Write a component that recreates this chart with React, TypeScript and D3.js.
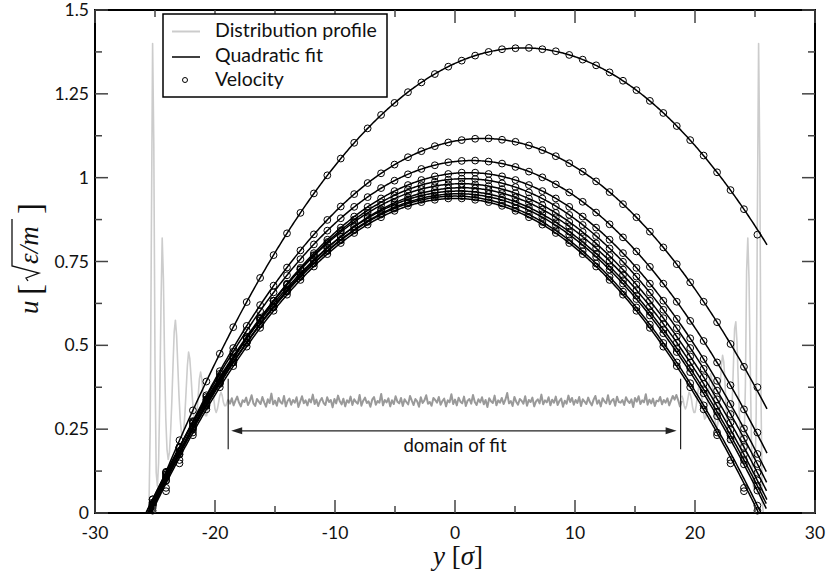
import React from "react";
import * as d3 from "d3";

// ---------- data ----------
const xTickValues = [-30, -20, -10, 0, 10, 20, 30];
const xTickLabels = ["-30", "-20", "-10", "0", "10", "20", "30"];
const xMinorTicks = [-25, -15, -5, 5, 15, 25];
const yTickValues = [0, 0.25, 0.5, 0.75, 1, 1.25, 1.5];
const yTickLabels = ["0", "0.25", "0.5", "0.75", "1", "1.25", "1.5"];
const yMinorTicks = [0.125, 0.375, 0.625, 0.875, 1.125, 1.375];

const legendLabels = ["Distribution profile", "Quadratic fit", "Velocity"];

// bin centres of the velocity profile
const binCenters = [
  -25.2, -24.08, -22.96, -21.84, -20.72, -19.6, -18.48, -17.36, -16.24, -15.12, -14, -12.88,
  -11.76, -10.64, -9.52, -8.4, -7.28, -6.16, -5.04, -3.92, -2.8, -1.68, -0.56, 0.56, 1.68, 2.8,
  3.92, 5.04, 6.16, 7.28, 8.4, 9.52, 10.64, 11.76, 12.88, 14, 15.12, 16.24, 17.36, 18.48, 19.6,
  20.72, 21.84, 22.96, 24.08, 25.2,
];

const velocity1 = [0.027,0.123,0.217,0.306,0.392,0.475,0.554,0.629,0.701,0.769,0.834,0.895,0.953,1.007,1.057,1.104,1.147,1.187,1.223,1.255,1.284,1.309,1.331,1.349,1.364,1.375,1.383,1.386,1.387,1.383,1.377,1.366,1.352,1.335,1.314,1.289,1.261,1.229,1.193,1.154,1.112,1.066,1.016,0.963,0.906,0.83];
const velocity2 = [0.024,0.111,0.195,0.274,0.351,0.423,0.492,0.558,0.620,0.678,0.732,0.783,0.831,0.874,0.914,0.951,0.984,1.013,1.039,1.061,1.079,1.094,1.105,1.112,1.116,1.117,1.113,1.107,1.096,1.082,1.064,1.043,1.018,0.989,0.957,0.921,0.882,0.839,0.792,0.742,0.688,0.630,0.569,0.504,0.436,0.375];
const velocity3 = [0.031,0.115,0.196,0.272,0.346,0.415,0.481,0.544,0.602,0.658,0.709,0.757,0.801,0.842,0.879,0.913,0.942,0.969,0.991,1.010,1.026,1.037,1.046,1.050,1.051,1.048,1.042,1.032,1.018,1.001,0.980,0.956,0.928,0.896,0.861,0.822,0.780,0.734,0.684,0.630,0.573,0.513,0.449,0.381,0.309,0.240];
const velocity4 = [0.020,0.096,0.176,0.252,0.325,0.394,0.459,0.521,0.579,0.633,0.684,0.731,0.775,0.815,0.851,0.884,0.913,0.938,0.960,0.978,0.993,1.004,1.011,1.015,1.015,1.011,1.004,0.993,0.978,0.960,0.938,0.913,0.884,0.851,0.815,0.775,0.731,0.684,0.633,0.579,0.521,0.459,0.394,0.325,0.252,0.176];
const velocity5 = [0.024,0.106,0.185,0.259,0.330,0.398,0.462,0.522,0.579,0.632,0.681,0.727,0.769,0.808,0.843,0.875,0.902,0.927,0.947,0.965,0.978,0.988,0.994,0.997,0.996,0.992,0.983,0.972,0.956,0.938,0.915,0.889,0.859,0.826,0.789,0.749,0.705,0.657,0.606,0.551,0.492,0.430,0.365,0.295,0.222,0.146];
const velocity6 = [0.040,0.120,0.197,0.270,0.339,0.405,0.467,0.526,0.581,0.633,0.681,0.726,0.767,0.804,0.838,0.868,0.895,0.918,0.938,0.954,0.966,0.975,0.980,0.982,0.980,0.975,0.966,0.954,0.938,0.918,0.895,0.868,0.838,0.804,0.767,0.726,0.681,0.633,0.581,0.526,0.467,0.405,0.339,0.270,0.197,0.120];
const velocity7 = [0.015,0.097,0.174,0.248,0.319,0.385,0.449,0.508,0.564,0.616,0.665,0.710,0.752,0.790,0.824,0.855,0.882,0.905,0.925,0.941,0.954,0.963,0.968,0.970,0.968,0.963,0.954,0.941,0.925,0.905,0.882,0.855,0.824,0.790,0.752,0.710,0.665,0.616,0.564,0.508,0.449,0.385,0.319,0.248,0.174,0.097];
const velocity8 = [0.041,0.120,0.195,0.267,0.336,0.400,0.462,0.519,0.574,0.624,0.671,0.715,0.755,0.791,0.824,0.853,0.879,0.901,0.920,0.935,0.947,0.955,0.959,0.960,0.957,0.951,0.941,0.928,0.911,0.891,0.867,0.839,0.808,0.773,0.735,0.694,0.648,0.599,0.547,0.491,0.432,0.369,0.302,0.232,0.158,0.081];
const velocity9 = [0.027,0.106,0.182,0.255,0.323,0.389,0.450,0.509,0.563,0.614,0.661,0.705,0.745,0.782,0.815,0.845,0.871,0.893,0.912,0.927,0.939,0.947,0.951,0.952,0.949,0.943,0.933,0.920,0.903,0.882,0.858,0.830,0.799,0.764,0.726,0.684,0.638,0.589,0.536,0.480,0.420,0.357,0.289,0.219,0.145,0.067];
const velocity10 = [0.022,0.075,0.158,0.240,0.321,0.387,0.449,0.507,0.562,0.613,0.660,0.704,0.744,0.781,0.813,0.843,0.868,0.890,0.908,0.923,0.934,0.941,0.945,0.945,0.941,0.934,0.923,0.908,0.890,0.868,0.843,0.813,0.781,0.744,0.704,0.660,0.613,0.562,0.507,0.449,0.387,0.321,0.240,0.158,0.075,0.022];
const velocity11 = [0.007,0.065,0.148,0.232,0.309,0.375,0.438,0.496,0.552,0.603,0.651,0.695,0.735,0.772,0.805,0.835,0.860,0.882,0.901,0.916,0.927,0.934,0.938,0.938,0.934,0.927,0.916,0.901,0.882,0.860,0.835,0.805,0.772,0.735,0.695,0.651,0.603,0.552,0.496,0.438,0.375,0.309,0.232,0.148,0.065,0.007];
const velocitySeries = [velocity1, velocity2, velocity3, velocity4, velocity5, velocity6, velocity7, velocity8, velocity9, velocity10, velocity11];

// quadratic fits u(y) = peak * (1 - ((y - centre) / (centre - wall))^2)
const fitPeak = [1.387, 1.117, 1.051, 1.015, 0.997, 0.982, 0.970, 0.960, 0.952, 0.945, 0.938];
const fitCenter = [5.7, 2.34, 1.4, 1.12, 0.84, 0.56, 0.56, 0.28, 0.28, 0, 0];
const fitWall = [-25.5, -25.5, -25.6, -25.36, -25.53, -25.74, -25.41, -25.76, -25.56, -25.5, -25.3];
const fitEnd = 26;

// distribution profile: left wall region (from -25.7, step 0.1)
const profileLeftStart = -25.7;
const profileWallStep = 0.1;
const profileLeft = [
  0, 0, 0.02, 0.25, 0.85, 1.40, 1.10, 0.45, 0.12, 0.08,
  0.15, 0.35, 0.62, 0.82, 0.70, 0.45, 0.28, 0.19, 0.16, 0.18,
  0.24, 0.33, 0.44, 0.54, 0.575, 0.53, 0.44, 0.35, 0.28, 0.24,
  0.23, 0.25, 0.30, 0.37, 0.44, 0.48, 0.46, 0.41, 0.35, 0.30,
  0.27, 0.27, 0.30, 0.35, 0.40, 0.42, 0.40, 0.36, 0.32, 0.29,
  0.29, 0.31, 0.34, 0.37, 0.38, 0.37, 0.34, 0.31, 0.30, 0.31,
  0.33, 0.35, 0.36, 0.35, 0.33, 0.32, 0.32, 0.33, 0.34,
];
// central (fit domain) region, from -18.9 with step 0.15
const profileCenterStart = -18.9;
const profileCenterStep = 0.15;
const profileCenter = [
  .338,.326,.342,.321,.335,.347,.329,.318,.336,.331,.344,.322,.333,.351,.327,.319,.34,.332,.325,.346,
  .33,.317,.339,.328,.356,.324,.335,.32,.343,.331,.326,.349,.318,.334,.341,.323,.337,.329,.345,.316,
  .332,.348,.327,.336,.321,.339,.33,.353,.325,.338,.319,.334,.343,.328,.322,.345,.331,.337,.315,.34,
  .327,.35,.333,.324,.341,.318,.336,.329,.347,.322,.339,.331,.326,.352,.32,.335,.344,.328,.333,.317,
  .338,.346,.323,.334,.329,.355,.321,.337,.33,.342,.318,.336,.325,.348,.332,.327,.343,.319,.339,.331,
  .324,.349,.335,.322,.34,.333,.317,.345,.328,.336,.351,.326,.331,.32,.343,.337,.329,.346,.323,.334,
  .341,.318,.336,.33,.354,.325,.338,.321,.344,.332,.327,.347,.319,.335,.34,.326,.352,.331,.322,.339,
  .33,.345,.324,.337,.316,.342,.333,.328,.35,.321,.336,.329,.343,.325,.338,.358,.327,.334,.319,.346,
  .332,.323,.34,.335,.326,.348,.32,.337,.331,.344,.318,.333,.339,.327,.353,.324,.336,.33,.345,.321,
  .338,.329,.347,.322,.334,.341,.317,.335,.326,.35,.331,.343,.323,.337,.328,.346,.319,.339,.332,.325,
  .344,.33,.321,.338,.349,.326,.336,.318,.342,.333,.327,.351,.324,.335,.34,.32,.347,.331,.329,.337,
  .322,.345,.334,.328,.339,.316,.343,.332,.348,.325,.336,.33,.354,.323,.338,.327,.341,.319,.335,.333,
  .346,.324,.337,.329,.342,.321,.335,.349,.338,.352,.336,.318,.334,
];
// right wall region, from 18.9 with step 0.1
const profileRightStart = 18.9;
const profileRight = [
  0.35, 0.34, 0.32, 0.31, 0.32, 0.34, 0.36, 0.355, 0.34, 0.315,
  0.30, 0.30, 0.32, 0.35, 0.375, 0.385, 0.37, 0.335, 0.30, 0.28,
  0.285, 0.31, 0.35, 0.395, 0.415, 0.40, 0.36, 0.31, 0.27, 0.25,
  0.265, 0.31, 0.38, 0.44, 0.47, 0.45, 0.39, 0.31, 0.25, 0.21,
  0.21, 0.25, 0.33, 0.44, 0.55, 0.57, 0.51, 0.40, 0.29, 0.20,
  0.15, 0.15, 0.22, 0.38, 0.72, 0.82, 0.70, 0.45, 0.22, 0.10,
  0.07, 0.09, 0.30, 0.90, 1.40, 1.05, 0.35, 0.03, 0,
];

const domainOfFit = [-18.9, 18.8];
const domainLabel = "domain of fit";

// ---------- component ----------
export default function App() {
  const W = 826;
  const H = 576;
  const x = d3.scaleLinear().domain([-30, 30]).range([95, 815]);
  const y = d3.scaleLinear().domain([0, 1.5]).range([513, 10]);
  const line = d3
    .line<[number, number]>()
    .x((d) => x(d[0]))
    .y((d) => y(d[1]));

  const leftPts: [number, number][] = profileLeft.map((v, i) => [profileLeftStart + i * profileWallStep, v]);
  const centerPts: [number, number][] = profileCenter.map((v, i) => [profileCenterStart + i * profileCenterStep, v]);
  const rightPts: [number, number][] = profileRight.map((v, i) => [profileRightStart + i * profileWallStep, v]);

  const fitPaths = fitPeak.map((a, i) => {
    const c = fitCenter[i];
    const w = fitWall[i];
    const pts: [number, number][] = d3
      .range(w, fitEnd + 1e-6, 0.1)
      .map((t) => [t, a * (1 - ((t - c) / (c - w)) ** 2)]);
    return line(pts) || "";
  });

  const tickFont = "Lato, 'Open Sans', sans-serif";
  const mathFont = "'Liberation Serif', 'DejaVu Serif', serif";
  const x0 = 95, x1 = 815, y0 = 513, y1 = 10;
  const majorLen = 13;
  const minorLen = 7;
  const tickColor = "#444";

  const arrowY = y(0.245);
  const ax0 = x(domainOfFit[0]) + 3;
  const ax1 = x(domainOfFit[1]) - 4;

  return (
    <svg
      width={W}
      height={H}
      viewBox={`0 0 ${W} ${H}`}
      style={{ position: "absolute", left: 0, top: 0, background: "#fff" }}
    >
      <defs>
        <clipPath id="plotClip">
          <rect x={x0} y={y1} width={x1 - x0} height={y0 - y1} />
        </clipPath>
      </defs>
      <rect x={0} y={0} width={W} height={H} fill="#fff" />

      {/* distribution profile */}
      <g clipPath="url(#plotClip)" fill="none" strokeLinejoin="round">
        <path d={line(leftPts) || ""} stroke="#cccccc" strokeWidth={1.6} />
        <path d={line(rightPts) || ""} stroke="#cccccc" strokeWidth={1.6} />
        <path d={line(centerPts) || ""} stroke="#9a9a9a" strokeWidth={2} />
      </g>

      {/* domain of fit annotation */}
      <g stroke="#222" strokeWidth={1.2}>
        {domainOfFit.map((d, i) => (
          <line key={i} x1={x(d)} x2={x(d)} y1={y(0.4)} y2={y(0.19)} />
        ))}
        <line x1={ax0 + 8} x2={ax1 - 8} y1={arrowY} y2={arrowY} />
      </g>
      <path
        d={`M${ax0},${arrowY} L${ax0 + 11},${arrowY - 3.5} L${ax0 + 11},${arrowY + 3.5} Z`}
        fill="#222"
      />
      <path
        d={`M${ax1},${arrowY} L${ax1 - 11},${arrowY - 3.5} L${ax1 - 11},${arrowY + 3.5} Z`}
        fill="#222"
      />
      <text x={x(0)} y={452} textAnchor="middle" fontFamily={tickFont} fontSize={18.5} fill="#111">
        {domainLabel}
      </text>

      {/* quadratic fits */}
      <g clipPath="url(#plotClip)" fill="none" stroke="#000" strokeWidth={1.5}>
        {fitPaths.map((p, i) => (
          <path key={i} d={p} />
        ))}
      </g>

      {/* velocity points */}
      <g fill="none" stroke="#000" strokeWidth={1}>
        {velocitySeries.map((series, si) =>
          series.map((v, i) => <circle key={`${si}-${i}`} cx={x(binCenters[i])} cy={y(v)} r={3.4} />)
        )}
      </g>

      {/* frame */}
      <rect x={x0} y={y1} width={x1 - x0} height={y0 - y1} fill="none" stroke="#000" strokeWidth={2} />

      {/* ticks */}
      <g stroke={tickColor} strokeWidth={1.5}>
        {xTickValues.map((t) => (
          <g key={`xt${t}`}>
            <line x1={x(t)} x2={x(t)} y1={y0} y2={y0 - majorLen} />
            <line x1={x(t)} x2={x(t)} y1={y1} y2={y1 + majorLen} />
          </g>
        ))}
        {xMinorTicks.map((t) => (
          <g key={`xm${t}`}>
            <line x1={x(t)} x2={x(t)} y1={y0} y2={y0 - minorLen} />
            <line x1={x(t)} x2={x(t)} y1={y1} y2={y1 + minorLen} />
          </g>
        ))}
        {yTickValues.map((t) => (
          <g key={`yt${t}`}>
            <line x1={x0} x2={x0 + majorLen} y1={y(t)} y2={y(t)} />
            <line x1={x1} x2={x1 - majorLen} y1={y(t)} y2={y(t)} />
          </g>
        ))}
        {yMinorTicks.map((t) => (
          <g key={`ym${t}`}>
            <line x1={x0} x2={x0 + minorLen} y1={y(t)} y2={y(t)} />
            <line x1={x1} x2={x1 - minorLen} y1={y(t)} y2={y(t)} />
          </g>
        ))}
      </g>

      {/* tick labels */}
      <g fontFamily={tickFont} fontSize={17.5} fill="#111">
        {xTickValues.map((t, i) => (
          <text key={`xl${t}`} x={x(t)} y={539} textAnchor="middle">
            {xTickLabels[i]}
          </text>
        ))}
        {yTickValues.map((t, i) => (
          <text key={`yl${t}`} x={89} y={y(t) + 6} textAnchor="end">
            {yTickLabels[i]}
          </text>
        ))}
      </g>

      {/* x axis label */}
      <g fontFamily={mathFont} fontSize={27} fill="#111">
        <text x={458} y={565} textAnchor="middle">
          <tspan fontStyle="italic">y</tspan>
          <tspan> [</tspan>
          <tspan fontStyle="italic">σ</tspan>
          <tspan>]</tspan>
        </text>
      </g>

      {/* y axis label (rotated) */}
      <g transform="translate(38, 314) rotate(-90)" fontFamily={mathFont} fill="#111">
        <text x={0} y={0} fontSize={27} fontStyle="italic">u</text>
        <text x={19} y={3} fontSize={33}>[</text>
        <path d="M33,-10 L36,-12 L41,1 L48,-26 L95,-26" fill="none" stroke="#111" strokeWidth={1.3} />
        <text x={50} y={0} fontSize={27} fontStyle="italic">ε/m</text>
        <text x={100} y={3} fontSize={33}>]</text>
      </g>

      {/* legend */}
      <g>
        <rect x={163} y={14} width={224} height={83} fill="#fff" stroke="#000" strokeWidth={1.5} />
        <line x1={172} x2={200} y1={31.5} y2={31.5} stroke="#cccccc" strokeWidth={2} />
        <line x1={172} x2={200} y1={57} y2={57} stroke="#000" strokeWidth={1.5} />
        <circle cx={185} cy={80} r={2.5} fill="none" stroke="#000" strokeWidth={1} />
        <g fontFamily={tickFont} fontSize={19.5} fill="#111">
          {legendLabels.map((l, i) => (
            <text key={l} x={215} y={37 + i * 24.5}>
              {l}
            </text>
          ))}
        </g>
      </g>
    </svg>
  );
}
